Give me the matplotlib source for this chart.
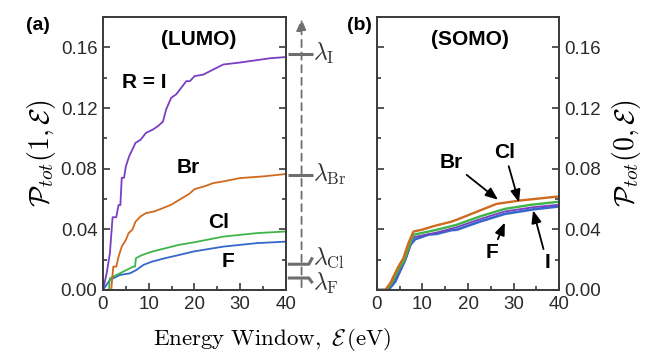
import matplotlib
matplotlib.use("Agg")
import matplotlib.pyplot as plt
from matplotlib.ticker import MultipleLocator

plt.rcParams["font.family"] = ["Liberation Sans", "DejaVu Sans"]
plt.rcParams["mathtext.fontset"] = "cm"

# ---------------------------------------------------------------------------
# Data — cumulative probability vs energy window (eV)
# ---------------------------------------------------------------------------

# (a) LUMO, P_tot(1, E)
lumo_I_E = [0, 0.8, 1.5, 2.1, 2.9, 3.4, 3.8, 4.1, 4.6, 5.0, 5.7, 6.4, 7.1, 8.2,
            9.4, 10.9, 12.0, 13.1, 13.8, 14.9, 16.0, 17.1, 18.2, 19.0, 20.0,
            21.9, 23.4, 26.3, 30.0, 33.5, 36.5, 40.0]
lumo_I_P = [0, 0.011, 0.024, 0.048, 0.048, 0.056, 0.056, 0.074, 0.074, 0.0815,
            0.088, 0.0925, 0.097, 0.099, 0.1036, 0.1058, 0.108, 0.111, 0.119,
            0.1267, 0.129, 0.1333, 0.1377, 0.1377, 0.141, 0.142, 0.1443, 0.1487,
            0.150, 0.1515, 0.1528, 0.1536]

lumo_Br_E = [0, 1.8, 2.25, 2.9, 3.4, 4.1, 5.0, 5.6, 6.4, 7.1, 8.2, 9.4, 11.2,
             13.1, 14.9, 16.7, 18.9, 20.0, 22.3, 24.1, 26.3, 30.0, 35.0, 40.0]
lumo_Br_P = [0, 0, 0.0154, 0.0154, 0.022, 0.0286, 0.033, 0.0375, 0.0397, 0.045,
             0.0485, 0.0507, 0.0518, 0.054, 0.0562, 0.0595, 0.0635, 0.0665,
             0.0685, 0.0705, 0.0716, 0.0738, 0.0749, 0.0765]

lumo_Cl_E = [0, 1.3, 1.5, 3.7, 6.6, 7.0, 7.2, 8.5, 10.7, 13.6, 16.5, 20.0, 26.3,
             33.6, 40.0]
lumo_Cl_P = [0, 0, 0.0077, 0.011, 0.0154, 0.0154, 0.021, 0.023, 0.0253, 0.0275,
             0.0297, 0.0315, 0.0352, 0.0375, 0.0386]

lumo_F_E = [0, 1.5, 3.7, 5.9, 7.3, 8.8, 10.7, 13.6, 16.5, 20.0, 26.3, 33.6, 40.0]
lumo_F_P = [0, 0.0066, 0.0099, 0.011, 0.0132, 0.0165, 0.0187, 0.021, 0.023,
            0.0255, 0.0286, 0.0309, 0.0319]

# (b) SOMO, P_tot(0, E)
somo_Br_E = [0, 1.8, 2.9, 3.6, 4.7, 5.8, 6.9, 8.0, 9.8, 12.7, 16.4, 17.5, 22.6,
             26.3, 31.4, 40.0]
somo_Br_P = [0, 0, 0.0044, 0.0088, 0.0154, 0.021, 0.0309, 0.0385, 0.0397,
             0.0423, 0.0451, 0.0463, 0.0524, 0.0568, 0.059, 0.0617]

somo_Cl_E = [0, 2.0, 3.0, 3.8, 4.9, 6.0, 7.1, 8.0, 13.1, 17.5, 22.6, 28.1, 33.9, 40.0]
somo_Cl_P = [0, 0, 0.0035, 0.008, 0.0145, 0.0195, 0.029, 0.0364, 0.0397, 0.043,
             0.0485, 0.0535, 0.0562, 0.0582]

somo_I_E = [0, 2.1, 3.1, 3.9, 5.0, 6.1, 7.2, 8.0, 13.1, 17.5, 22.6, 28.1, 34.6, 40.0]
somo_I_P = [0, 0, 0.004, 0.0075, 0.014, 0.019, 0.028, 0.0348, 0.0379, 0.0414,
            0.0467, 0.0518, 0.0547, 0.0562]

somo_F_E = [0, 2.5, 4.0, 5.0, 6.2, 7.3, 8.4, 11.3, 13.1, 16.4, 17.5, 22.6, 28.1,
            34.6, 40.0]
somo_F_P = [0, 0, 0.0055, 0.012, 0.0198, 0.0297, 0.0335, 0.0365, 0.0370, 0.0395,
            0.0397, 0.0451, 0.0502, 0.0533, 0.0551]

# ionisation-like levels drawn beside panel (a)
lam_names = ["I", "Br", "Cl", "F"]
lam_vals = [0.1558, 0.0760, 0.0170, 0.0079]
lam_text_y = [0.1558, 0.0760, 0.0215, 0.0045]

C_I = "#7a3fc2"
C_BR = "#cf6a1f"
C_CL = "#3db54a"
C_F = "#3567cc"
GRAY = "#6e6e6e"
SPINE = "#3a3a3a"


def style_axes(ax):
    ax.set_xlim(0, 40)
    ax.set_ylim(0, 0.18)
    ax.xaxis.set_major_locator(MultipleLocator(10))
    ax.xaxis.set_minor_locator(MultipleLocator(5))
    ax.yaxis.set_major_locator(MultipleLocator(0.04))
    ax.yaxis.set_minor_locator(MultipleLocator(0.02))
    ax.tick_params(which="both", direction="in", left=True, right=True,
                   top=False, colors=SPINE, labelcolor="#2a2a2a",
                   labelsize=13.5, width=1.2)
    ax.tick_params(which="major", length=5, pad=4)
    ax.tick_params(which="minor", length=3)
    for spine in ax.spines.values():
        spine.set_edgecolor(SPINE)
        spine.set_linewidth(1.4)


fig = plt.figure(figsize=(6.51, 3.55), dpi=100)
ax_a = fig.add_axes([0.1582, 0.1831, 0.2811, 0.769])
ax_b = fig.add_axes([0.5791, 0.1831, 0.2796, 0.769])

# ---------------------------------------------------------------------------
# (a) LUMO
# ---------------------------------------------------------------------------
lw = 1.3
ax_a.plot(lumo_F_E, lumo_F_P, color=C_F, lw=lw)
ax_a.plot(lumo_Cl_E, lumo_Cl_P, color=C_CL, lw=lw)
ax_a.plot(lumo_Br_E, lumo_Br_P, color=C_BR, lw=lw)
ax_a.plot(lumo_I_E, lumo_I_P, color=C_I, lw=lw)
style_axes(ax_a)
ax_a.yaxis.set_major_formatter(lambda v, p: f"{v:.2f}")

bold = dict(fontsize=15, fontweight="bold", ha="center", va="center")
ax_a.text(21, 0.165, "(LUMO)", **bold)
ax_a.text(9, 0.137, "R = I", **bold)
ax_a.text(18.6, 0.0807, "Br", **bold)
ax_a.text(25.2, 0.0443, "Cl", **bold)
ax_a.text(27.4, 0.0185, "F", **bold)
ax_a.set_ylabel(r"$\mathcal{P}_{tot}(1,\mathcal{E})$", fontsize=20, labelpad=2)

# energy-level bars and the dashed axis arrow to the right of panel (a)
ax_a.annotate("", xy=(43.4, 0.1805), xytext=(43.4, 0.0),
              arrowprops=dict(arrowstyle="-|>,head_length=0.7,head_width=0.3",
                              color=GRAY, lw=1.3, ls=(0, (4, 3))),
              annotation_clip=False)
for name, val, ty in zip(lam_names, lam_vals, lam_text_y):
    ax_a.plot([40.4, 45.0, 45.8], [val, val, ty], color=GRAY, lw=2.2,
              clip_on=False, solid_capstyle="butt")
    ax_a.text(45.8, ty, rf"$\lambda_{{\mathrm{{{name}}}}}$", fontsize=17,
              ha="left", va="center", color="#333333", clip_on=False)

fig.text(0.040, 0.915, "(a)", fontsize=14, fontweight="bold")

# ---------------------------------------------------------------------------
# (b) SOMO
# ---------------------------------------------------------------------------
ax_b.plot(somo_F_E, somo_F_P, color=C_F, lw=lw + 0.6)
ax_b.plot(somo_I_E, somo_I_P, color=C_I, lw=lw)
ax_b.plot(somo_Cl_E, somo_Cl_P, color=C_CL, lw=lw + 0.4)
ax_b.plot(somo_Br_E, somo_Br_P, color=C_BR, lw=lw + 0.4)
style_axes(ax_b)
ax_b.tick_params(labelleft=False, labelright=True)
ax_b.yaxis.set_major_formatter(lambda v, p: f"{v:.2f}")
ax_b.yaxis.set_label_position("right")
ax_b.set_ylabel(r"$\mathcal{P}_{tot}(0,\mathcal{E})$", fontsize=20,
                rotation=90, labelpad=6)
ax_b.text(20.5, 0.165, "(SOMO)", **bold)

arrow = dict(arrowstyle="-|>,head_length=0.5,head_width=0.2", color="black",
             lw=1.3, shrinkA=1, shrinkB=0)
ax_b.annotate("Br", xy=(26.6, 0.0595), xytext=(16.3, 0.084), arrowprops=arrow, **bold)
ax_b.annotate("Cl", xy=(31.2, 0.0578), xytext=(28.1, 0.0906), arrowprops=arrow, **bold)
ax_b.annotate("F", xy=(28.1, 0.0445), xytext=(25.3, 0.0245), arrowprops=arrow, **bold)
ax_b.annotate("I", xy=(34.3, 0.0525), xytext=(37.4, 0.018), arrowprops=arrow, **bold)

fig.text(0.533, 0.915, "(b)", fontsize=14, fontweight="bold")

fig.text(0.418, 0.045, r"$\mathrm{Energy\ Window,}\ \mathcal{E}\,(\mathrm{eV})$",
         fontsize=16.5, ha="center", va="center")

fig.savefig("out.png", dpi=100)
